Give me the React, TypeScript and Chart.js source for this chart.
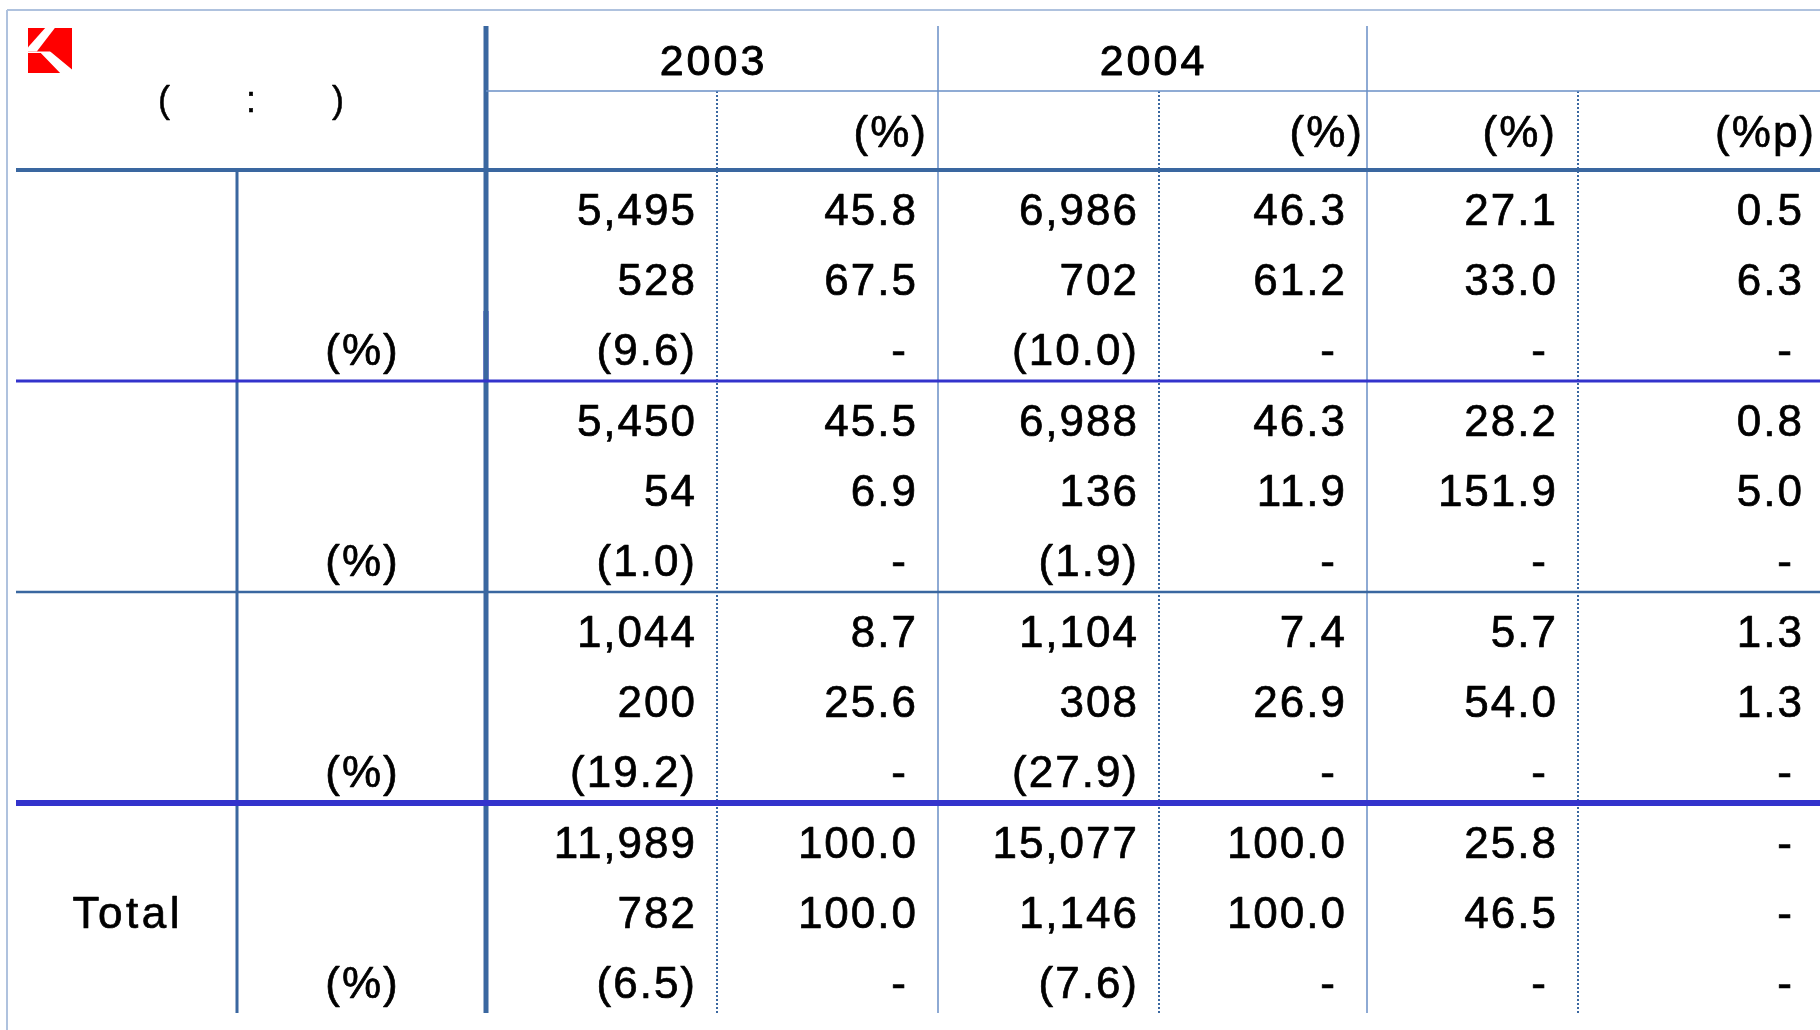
import React, { useEffect, useRef } from "react";
import { Chart, registerables } from "chart.js";

Chart.register(...registerables);

// ---------------- DATA ----------------
// Group / row labels (Korean labels in the source render as blanks)
const groupLabels = ["", "", "", "Total"];
const subRowLabels = ["", "", "(%)"];
const yearLabels = ["2003", "2004"];
const columnUnitLabels = ["", "(%)", "", "(%)", "(%)", "(%p)"];
const unitNoteParts = ["(", ":", ")"];

// 2003
const sales2003 = [5495, 5450, 1044, 11989];
const salesShare2003 = [45.8, 45.5, 8.7, 100.0];
const profit2003 = [528, 54, 200, 782];
const profitShare2003 = [67.5, 6.9, 25.6, 100.0];
const margin2003 = [9.6, 1.0, 19.2, 6.5];
// 2004
const sales2004 = [6986, 6988, 1104, 15077];
const salesShare2004 = [46.3, 46.3, 7.4, 100.0];
const profit2004 = [702, 136, 308, 1146];
const profitShare2004 = [61.2, 11.9, 26.9, 100.0];
const margin2004 = [10.0, 1.9, 27.9, 7.6];
// growth / change
const salesGrowth = [27.1, 28.2, 5.7, 25.8];
const profitGrowth = [33.0, 151.9, 54.0, 46.5];
const salesShareChange: (number | null)[] = [0.5, 0.8, 1.3, null];
const profitShareChange: (number | null)[] = [6.3, 5.0, 1.3, null];

// ---------------- LAYOUT (scale units = px) ----------------
const W = 1820;
const H = 1030;
const colEdges = [7, 237, 486, 717, 938, 1159, 1367, 1578, 1824];
const groupTops = [170, 381, 592, 803];
const rowBaseOffsets = [55, 125, 195];
const cellPadRight = 22;
const dashExtraPad = 10;
const unitHeaderRight = [0, 926, 0, 1362, 1555, 1814];
const unitHeaderBase = 147;
const yearCenters = [712, 1152];
const yearBase = 75;
const unitNoteX = [164, 251, 338];
const unitNoteBase = 112;
const groupLabelX = 126;
const subLabelX = 361.5;

const STEEL = "#3A67A0";
const STEEL_LIGHT = "#6A8FC6";
const BRIGHT = "#3333CC";
const FRAME = "#AFC2DE";

type Seg = { x1: number; y1: number; x2: number; y2: number; color: string; width: number; dash?: number[] };
const segments: Seg[] = [
  { x1: 7, y1: 10, x2: W, y2: 10, color: FRAME, width: 2 },
  { x1: 7, y1: 10, x2: 7, y2: H, color: FRAME, width: 2 },
  { x1: 486, y1: 91, x2: W, y2: 91, color: STEEL_LIGHT, width: 1.5 },
  { x1: 16, y1: 170, x2: W, y2: 170, color: STEEL, width: 4 },
  { x1: 16, y1: 381, x2: W, y2: 381, color: BRIGHT, width: 3 },
  { x1: 16, y1: 592, x2: W, y2: 592, color: STEEL, width: 2.5 },
  { x1: 16, y1: 803, x2: W, y2: 803, color: BRIGHT, width: 6 },
  { x1: 237, y1: 170, x2: 237, y2: 1013, color: STEEL, width: 3 },
  { x1: 938, y1: 26, x2: 938, y2: 1013, color: STEEL_LIGHT, width: 1.5 },
  { x1: 1367, y1: 26, x2: 1367, y2: 1013, color: STEEL_LIGHT, width: 1.5 },
  { x1: 717, y1: 91, x2: 717, y2: 1013, color: STEEL, width: 2, dash: [2, 2] },
  { x1: 1159, y1: 91, x2: 1159, y2: 1013, color: STEEL, width: 2, dash: [2, 2] },
  { x1: 1578, y1: 91, x2: 1578, y2: 1013, color: STEEL, width: 2, dash: [2, 2] },
  { x1: 486, y1: 26, x2: 486, y2: 1013, color: STEEL, width: 5 },
  { x1: 486, y1: 311, x2: 486, y2: 381, color: BRIGHT, width: 5 },
];

// logo box
const logoBox = { x: 28, y: 28, w: 44, h: 45 };
const logoWhiteA = [[0.39, 0], [0.61, 0], [0.2, 0.52], [0, 0.52], [0, 0.43]];
const logoWhiteB = [[0, 0.52], [0.5, 0.52], [0.54, 0.55], [1, 0.92], [1, 1], [0.73, 1], [0.29, 0.555], [0, 0.555]];

// ---------------- helpers ----------------
const fmtInt = (v: number | null) => (v === null ? "-" : v.toLocaleString("en-US"));
const fmtDec = (v: number | null) => (v === null ? "-" : v.toFixed(1));
const fmtParen = (v: number | null) => (v === null ? "-" : `(${v.toFixed(1)})`);

function buildCellTexts(g: number): string[][] {
  return [
    [fmtInt(sales2003[g]), fmtDec(salesShare2003[g]), fmtInt(sales2004[g]), fmtDec(salesShare2004[g]), fmtDec(salesGrowth[g]), fmtDec(salesShareChange[g])],
    [fmtInt(profit2003[g]), fmtDec(profitShare2003[g]), fmtInt(profit2004[g]), fmtDec(profitShare2004[g]), fmtDec(profitGrowth[g]), fmtDec(profitShareChange[g])],
    [fmtParen(margin2003[g]), "-", fmtParen(margin2004[g]), "-", "-", "-"],
  ];
}

const FONT = "44px 'Liberation Sans', Arial, sans-serif";

function textDataset(points: { x: number; y: number }[], texts: string[], align: string, font: string, spacing: number, stroke = 0.7) {
  return {
    data: points,
    texts,
    textAlign: align,
    textFont: font,
    textSpacing: spacing,
    textStroke: stroke,
    showLine: false,
    pointRadius: 0,
    pointHoverRadius: 0,
    clip: false,
  } as any;
}

const textPlugin = {
  id: "tableText",
  afterDatasetsDraw(chart: any) {
    const ctx = chart.ctx as CanvasRenderingContext2D;
    chart.data.datasets.forEach((ds: any, i: number) => {
      if (!ds.texts) return;
      const meta = chart.getDatasetMeta(i);
      ctx.save();
      ctx.font = ds.textFont;
      ctx.fillStyle = "#000";
      ctx.strokeStyle = "#000";
      ctx.lineWidth = ds.textStroke;
      ctx.lineJoin = "round";
      ctx.textAlign = ds.textAlign;
      ctx.textBaseline = "alphabetic";
      (ctx as any).letterSpacing = `${ds.textSpacing}px`;
      const shift = ds.textAlign === "right" ? ds.textSpacing : ds.textAlign === "center" ? ds.textSpacing / 2 : 0;
      meta.data.forEach((el: any, j: number) => {
        const t = ds.texts[j];
        if (!t) return;
        const dx = t === "-" && ds.textAlign === "right" ? -dashExtraPad : 0;
        ctx.fillText(t, el.x + shift + dx, el.y);
        if (ds.textStroke > 0) ctx.strokeText(t, el.x + shift + dx, el.y);
      });
      ctx.restore();
    });
  },
};

const logoPlugin = {
  id: "logo",
  beforeDatasetsDraw(chart: any) {
    const ctx = chart.ctx as CanvasRenderingContext2D;
    const xs = chart.scales.x;
    const ys = chart.scales.y;
    const px = (u: number) => xs.getPixelForValue(logoBox.x + u * logoBox.w);
    const py = (v: number) => ys.getPixelForValue(logoBox.y + v * logoBox.h);
    ctx.save();
    ctx.fillStyle = "#FF0000";
    ctx.fillRect(px(0), py(0), px(1) - px(0), py(1) - py(0));
    ctx.fillStyle = "#FFFFFF";
    [logoWhiteA, logoWhiteB].forEach((poly) => {
      ctx.beginPath();
      poly.forEach(([u, v], k) => (k === 0 ? ctx.moveTo(px(u), py(v)) : ctx.lineTo(px(u), py(v))));
      ctx.closePath();
      ctx.fill();
    });
    ctx.restore();
  },
};

function buildDatasets() {
  const ds: any[] = [];
  // cell values
  const cellPts: { x: number; y: number }[] = [];
  const cellTexts: string[] = [];
  groupTops.forEach((top, g) => {
    const rows = buildCellTexts(g);
    rows.forEach((row, r) => {
      row.forEach((t, c) => {
        cellPts.push({ x: colEdges[c + 3] - cellPadRight, y: top + rowBaseOffsets[r] });
        cellTexts.push(t);
      });
    });
  });
  ds.push(textDataset(cellPts, cellTexts, "right", FONT, 2));

  // group labels (middle row)
  ds.push(
    textDataset(
      groupTops.map((top) => ({ x: groupLabelX, y: top + rowBaseOffsets[1] })),
      groupLabels,
      "center",
      FONT,
      3.5
    )
  );
  // sub-row labels
  const slPts: { x: number; y: number }[] = [];
  const slTexts: string[] = [];
  groupTops.forEach((top) => {
    subRowLabels.forEach((s, r) => {
      slPts.push({ x: subLabelX, y: top + rowBaseOffsets[r] });
      slTexts.push(s);
    });
  });
  ds.push(textDataset(slPts, slTexts, "center", FONT, 2));

  // header years
  ds.push(textDataset(yearCenters.map((x) => ({ x, y: yearBase })), yearLabels, "center", "43px 'Liberation Sans', Arial, sans-serif", 3, 0.9));
  // header units
  ds.push(textDataset(unitHeaderRight.map((x) => ({ x, y: unitHeaderBase })), columnUnitLabels, "right", FONT, 2));
  // unit note
  ds.push(textDataset(unitNoteX.map((x) => ({ x, y: unitNoteBase })), unitNoteParts, "center", "36px 'Liberation Sans', Arial, sans-serif", 0, 0.5));

  // grid lines
  segments.forEach((s) => {
    ds.push({
      data: [
        { x: s.x1, y: s.y1 },
        { x: s.x2, y: s.y2 },
      ],
      showLine: true,
      borderColor: s.color,
      borderWidth: s.width,
      borderDash: s.dash || [],
      pointRadius: 0,
      pointHoverRadius: 0,
      fill: false,
      clip: false,
      tension: 0,
    });
  });
  return ds;
}

export default function App() {
  const ref = useRef<HTMLCanvasElement | null>(null);
  useEffect(() => {
    if (!ref.current) return;
    const chart = new Chart(ref.current, {
      type: "scatter",
      data: { datasets: buildDatasets() },
      options: {
        animation: false,
        responsive: false,
        devicePixelRatio: 1,
        events: [],
        layout: { padding: 0 },
        plugins: { legend: { display: false }, tooltip: { enabled: false }, title: { display: false } },
        scales: {
          x: { type: "linear", min: 0, max: W, display: false },
          y: { type: "linear", min: 0, max: H, reverse: true, display: false },
        },
      } as any,
      plugins: [logoPlugin, textPlugin],
    });
    return () => chart.destroy();
  }, []);
  return (
    <div style={{ position: "fixed", left: 0, top: 0, width: W, height: H, background: "#fff" }}>
      <canvas ref={ref} width={W} height={H} style={{ display: "block", width: W, height: H }} />
    </div>
  );
}
